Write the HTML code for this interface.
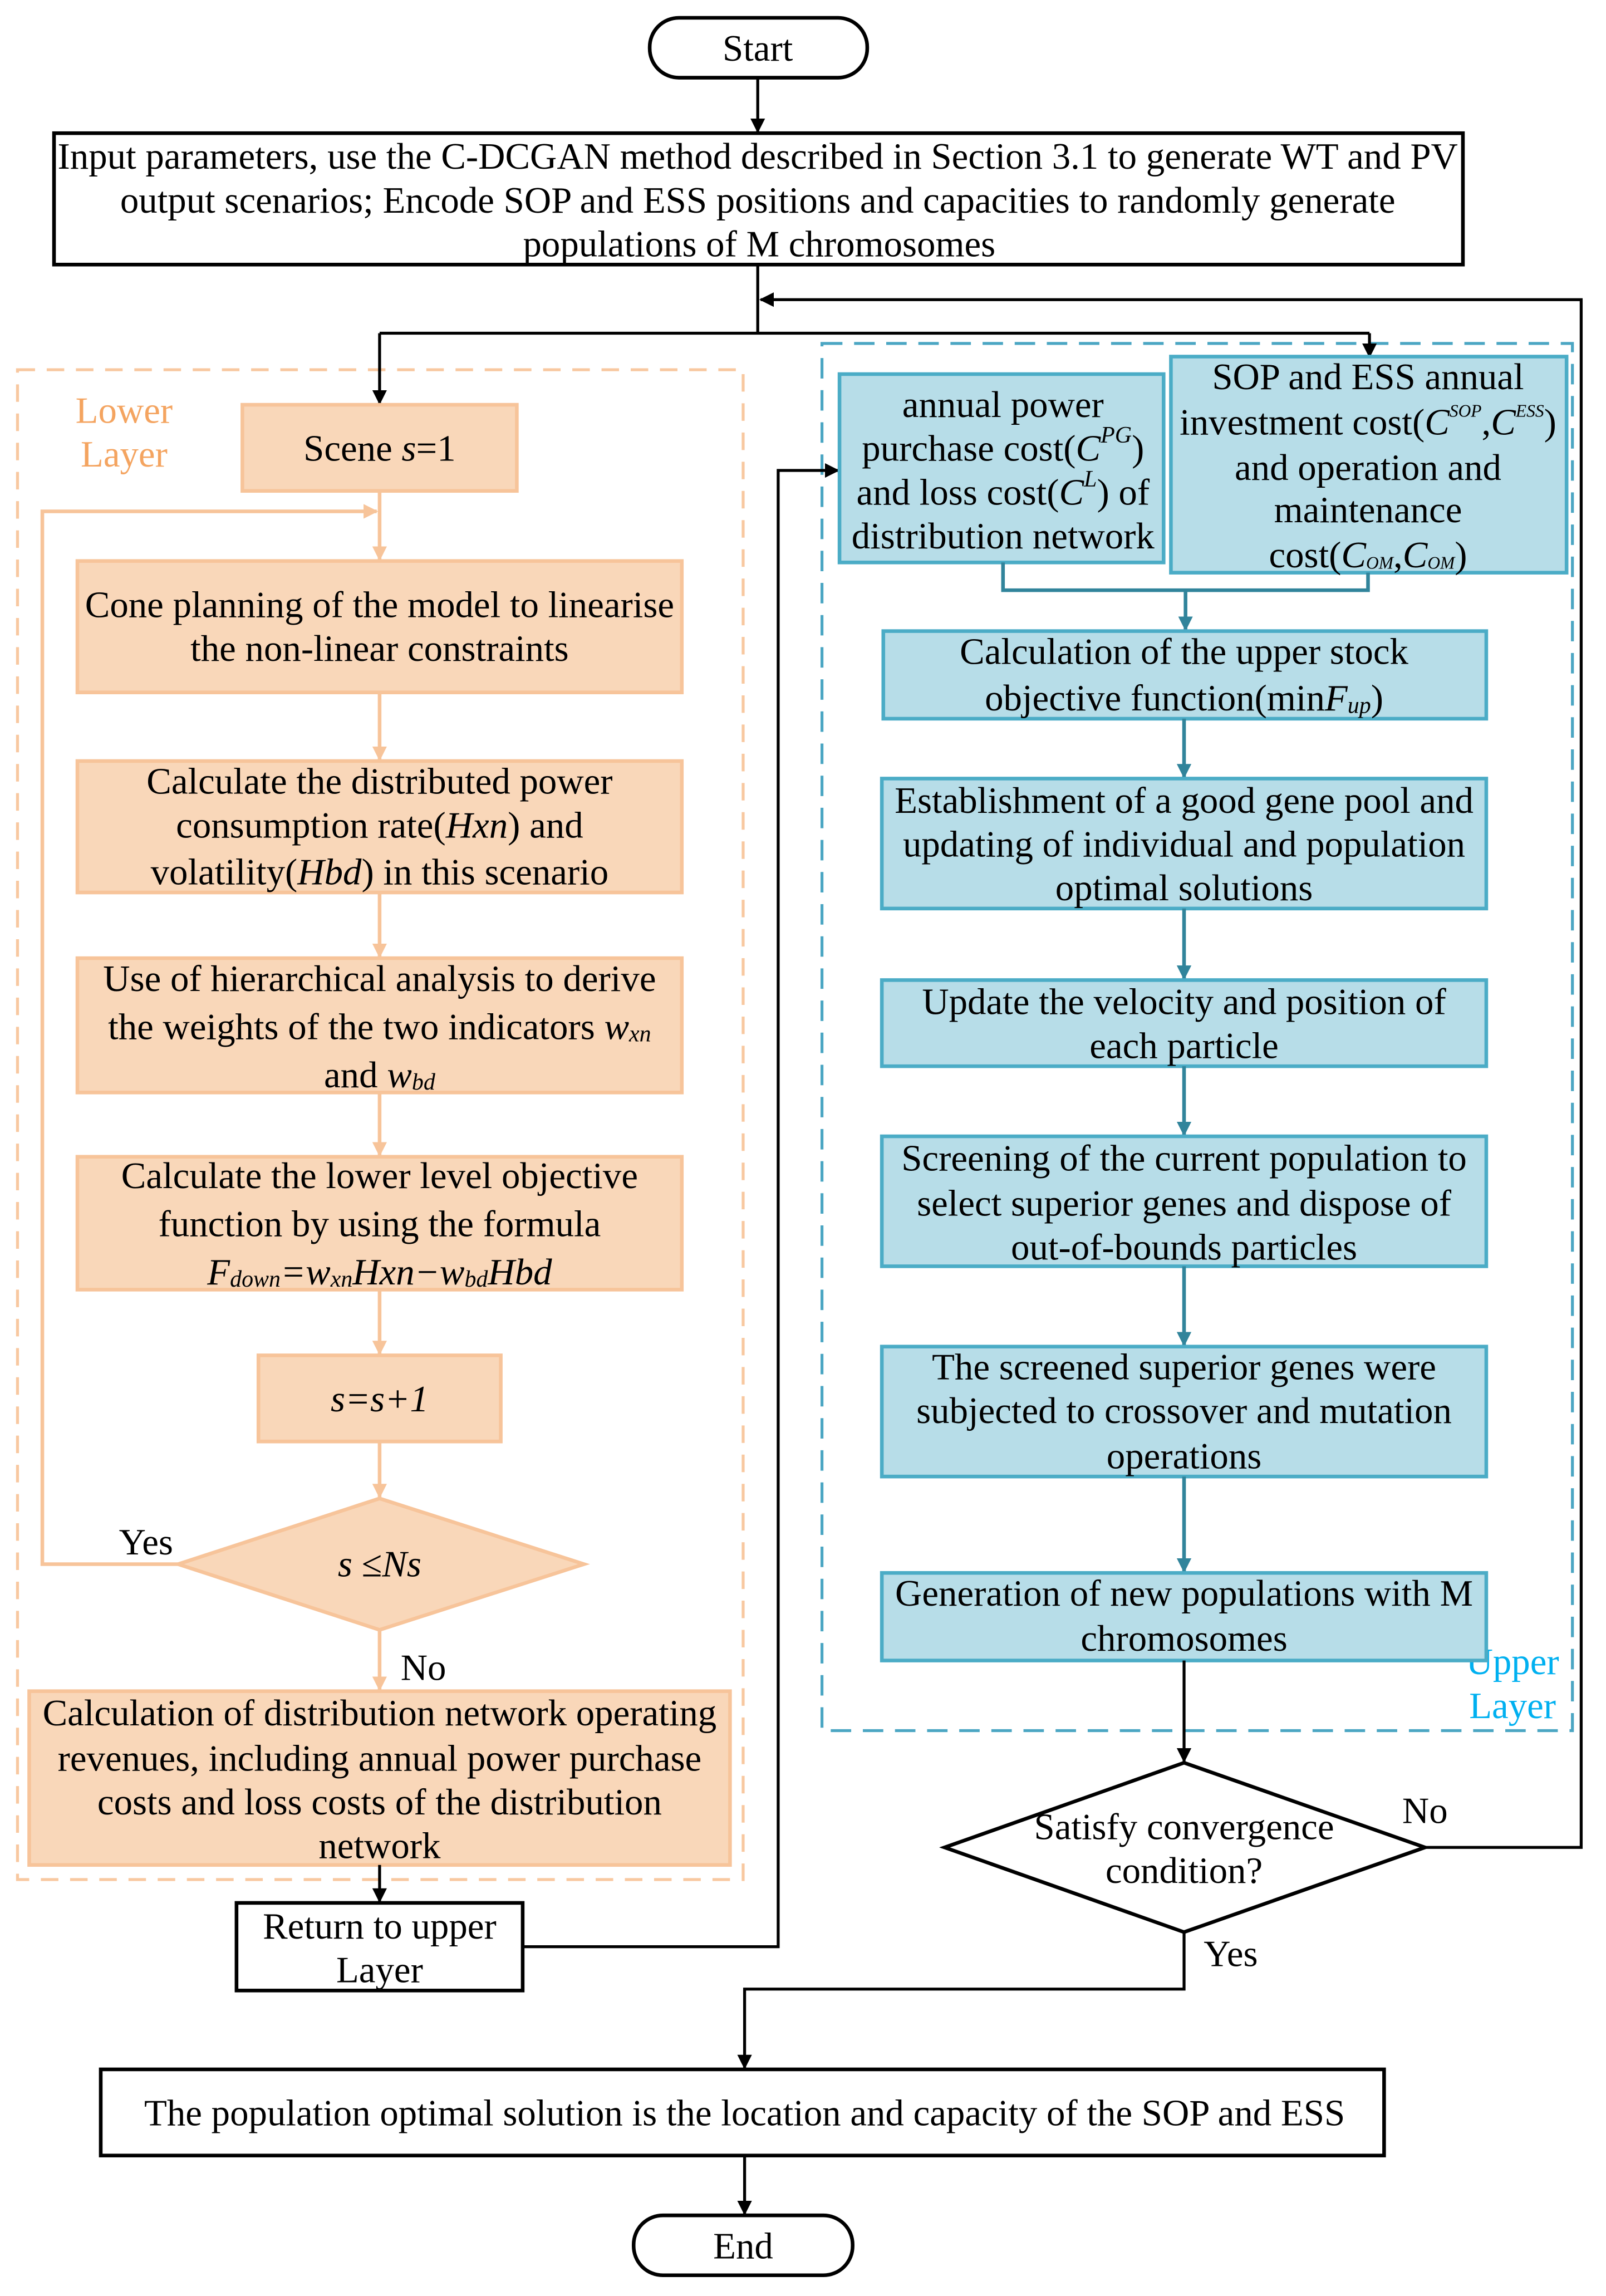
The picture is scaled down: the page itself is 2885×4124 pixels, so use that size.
<!DOCTYPE html>
<html><head><meta charset="utf-8"><style>
html,body{margin:0;padding:0;background:#fff;}
svg{display:block;}
text{font-family:"Liberation Serif",serif;font-size:25.5px;fill:#000;text-anchor:middle;dominant-baseline:central;}
.o{fill:#F9D7B9;stroke:#F7C49A;stroke-width:2.5;}
.b{fill:#B7DDE8;stroke:#4BACC6;stroke-width:2.5;}
.k{fill:#fff;stroke:#000;stroke-width:2.5;}
.ol{stroke:#F7C49A;stroke-width:2.5;fill:none;}
.bl{stroke:#31849B;stroke-width:2.5;fill:none;}
.kl{stroke:#000;stroke-width:2;fill:none;}
.i{font-style:italic;}
</style></head><body>
<svg width="2885" height="4124" viewBox="0 0 1100 1572" xmlns="http://www.w3.org/2000/svg">
<defs>
<marker id="ak" markerWidth="10" markerHeight="10" refX="9" refY="5" orient="auto" markerUnits="userSpaceOnUse"><path d="M0,0 L10,5 L0,10 Z" fill="#000"/></marker>
<marker id="ao" markerWidth="10" markerHeight="10" refX="9" refY="5" orient="auto" markerUnits="userSpaceOnUse"><path d="M0,0 L10,5 L0,10 Z" fill="#F7C49A"/></marker>
<marker id="ab" markerWidth="10" markerHeight="10" refX="9" refY="5" orient="auto" markerUnits="userSpaceOnUse"><path d="M0,0 L10,5 L0,10 Z" fill="#31849B"/></marker>
</defs>

<rect x="12" y="253" width="497" height="1034" fill="none" stroke="#F8C8A0" stroke-width="2" stroke-dasharray="12,8"/>
<text x="85" y="281" style="fill:#F4A460">Lower</text>
<text x="85" y="311" style="fill:#F4A460">Layer</text>
<rect x="563" y="235" width="514" height="950" fill="none" stroke="#4BA6C3" stroke-width="2" stroke-dasharray="14,8"/>
<text x="1036" y="1138" style="fill:#00B0F0">Upper</text>
<text x="1036" y="1168" style="fill:#00B0F0">Layer</text>

<rect x="445" y="12" width="149" height="41" rx="20" class="k"/>
<text x="519" y="33">Start</text>
<line x1="519" y1="53" x2="519" y2="90" class="kl" marker-end="url(#ak)"/>

<rect x="37" y="91" width="965" height="90" class="k"/>
<text x="519" y="107">Input parameters, use the C-DCGAN method described in Section 3.1 to generate WT and PV</text>
<text x="519" y="137">output scenarios; Encode SOP and ESS positions and capacities to randomly generate</text>
<text x="520" y="167">populations of M chromosomes</text>

<path d="M519,181 V228" class="kl"/>
<path d="M260,228 H938" class="kl"/>
<path d="M260,228 V276" class="kl" marker-end="url(#ak)"/>
<path d="M938,228 V244" class="kl" marker-end="url(#ak)"/>
<path d="M976,1265 H1083 V205 H521" class="kl" marker-end="url(#ak)"/>

<rect x="166" y="277" width="188" height="59" class="o"/>
<text x="260" y="307">Scene  <tspan class="i">s</tspan>=1</text>
<path d="M260,336 V383" class="ol" marker-end="url(#ao)"/>
<path d="M122,1071 H29 V350 H258" class="ol" marker-end="url(#ao)"/>

<rect x="53" y="384" width="414" height="90" class="o"/>
<text x="260" y="414">Cone planning of the model to linearise</text>
<text x="260" y="444">the non-linear constraints</text>
<path d="M260,474 V520" class="ol" marker-end="url(#ao)"/>

<rect x="53" y="521" width="414" height="90" class="o"/>
<text x="260" y="535">Calculate the distributed power</text>
<text x="260" y="565">consumption rate(<tspan class="i">Hxn</tspan>) and</text>
<text x="260" y="597">volatility(<tspan class="i">Hbd</tspan>) in this scenario</text>
<path d="M260,611 V655" class="ol" marker-end="url(#ao)"/>

<rect x="53" y="656" width="414" height="92" class="o"/>
<text x="260" y="670">Use of hierarchical analysis to derive</text>
<text x="260" y="703">the weights of the two indicators <tspan class="i">w</tspan><tspan class="i" font-size="16" dy="5">xn</tspan></text>
<text x="260" y="736">and  <tspan class="i">w</tspan><tspan class="i" font-size="16" dy="5">bd</tspan></text>
<path d="M260,748 V791" class="ol" marker-end="url(#ao)"/>

<rect x="53" y="792" width="414" height="91" class="o"/>
<text x="260" y="805">Calculate the lower level objective</text>
<text x="260" y="838">function by using the formula</text>
<text x="260" y="871" class="i">F<tspan font-size="16" dy="5">down</tspan><tspan dy="-5">=w</tspan><tspan font-size="16" dy="5">xn</tspan><tspan dy="-5">Hxn−w</tspan><tspan font-size="16" dy="5">bd</tspan><tspan dy="-5">Hbd</tspan></text>
<path d="M260,883 V927" class="ol" marker-end="url(#ao)"/>

<rect x="177" y="928" width="166" height="59" class="o"/>
<text x="260" y="958" class="i">s=s+1</text>
<path d="M260,987 V1025" class="ol" marker-end="url(#ao)"/>

<polygon points="260,1026 400,1071 260,1116 122,1071" class="o"/>
<text x="260" y="1071"><tspan class="i">s</tspan> ≤<tspan class="i">Ns</tspan></text>
<text x="100" y="1056">Yes</text>
<path d="M260,1116 V1157" class="ol" marker-end="url(#ao)"/>
<text x="290" y="1142">No</text>

<rect x="20" y="1158" width="480" height="119" class="o"/>
<text x="260" y="1173">Calculation of distribution network operating</text>
<text x="260" y="1204">revenues, including annual power purchase</text>
<text x="260" y="1234">costs and loss costs of the distribution</text>
<text x="260" y="1264">network</text>
<path d="M260,1277 V1302" class="kl" marker-end="url(#ak)"/>

<rect x="162" y="1303" width="196" height="60" class="k"/>
<text x="260" y="1319">Return to upper</text>
<text x="260" y="1349">Layer</text>
<path d="M358,1333 H533 V322 H574" class="kl" marker-end="url(#ak)"/>

<rect x="575" y="256" width="222" height="129" class="b"/>
<text x="687" y="277">annual power</text>
<text x="687" y="307">purchase cost(<tspan class="i">C</tspan><tspan class="i" font-size="16" dy="-9">PG</tspan><tspan dy="9">)</tspan></text>
<text x="687" y="337">and loss cost(<tspan class="i">C</tspan><tspan class="i" font-size="16" dy="-9">L</tspan><tspan dy="9">) of</tspan></text>
<text x="687" y="367">distribution network</text>

<rect x="802" y="244" width="271" height="148" class="b"/>
<text x="937" y="258">SOP and ESS annual</text>
<text x="937" y="289">investment cost(<tspan class="i">C</tspan><tspan class="i" font-size="12" dy="-8">SOP</tspan><tspan dy="8">,</tspan><tspan class="i">C</tspan><tspan class="i" font-size="12" dy="-8">ESS</tspan><tspan dy="8">)</tspan></text>
<text x="937" y="320">and operation and</text>
<text x="937" y="349">maintenance</text>
<text x="937" y="380">cost(<tspan class="i">C</tspan><tspan class="i" font-size="12" dy="5">OM</tspan><tspan dy="-5">,</tspan><tspan class="i">C</tspan><tspan class="i" font-size="12" dy="5">OM</tspan><tspan dy="-5">)</tspan></text>

<path d="M687,385 V404 H937 V392" class="bl"/>
<path d="M812,404 V431" class="bl" marker-end="url(#ab)"/>

<rect x="605" y="432" width="413" height="60" class="b"/>
<text x="811" y="446">Calculation of the upper stock</text>
<text x="811" y="478">objective function(min<tspan class="i">F</tspan><tspan class="i" font-size="16" dy="5">up</tspan><tspan dy="-5">)</tspan></text>
<path d="M811,492 V532" class="bl" marker-end="url(#ab)"/>

<rect x="604" y="533" width="414" height="89" class="b"/>
<text x="811" y="548">Establishment of a good gene pool and</text>
<text x="811" y="578">updating of individual and population</text>
<text x="811" y="608">optimal solutions</text>
<path d="M811,622 V670" class="bl" marker-end="url(#ab)"/>

<rect x="604" y="671" width="414" height="59" class="b"/>
<text x="811" y="686">Update the velocity and position of</text>
<text x="811" y="716">each particle</text>
<path d="M811,730 V777" class="bl" marker-end="url(#ab)"/>

<rect x="604" y="778" width="414" height="89" class="b"/>
<text x="811" y="793">Screening of the current population to</text>
<text x="811" y="824">select superior genes and dispose of</text>
<text x="811" y="854">out-of-bounds particles</text>
<path d="M811,867 V921" class="bl" marker-end="url(#ab)"/>

<rect x="604" y="922" width="414" height="89" class="b"/>
<text x="811" y="936">The screened superior genes were</text>
<text x="811" y="966">subjected to crossover and mutation</text>
<text x="811" y="997">operations</text>
<path d="M811,1011 V1076" class="bl" marker-end="url(#ab)"/>

<rect x="604" y="1077" width="414" height="60" class="b"/>
<text x="811" y="1091">Generation of new populations with M</text>
<text x="811" y="1122">chromosomes</text>
<path d="M811,1137 V1206" class="kl" marker-end="url(#ak)"/>

<polygon points="811,1207 976,1265 811,1323 647,1265" class="k"/>
<text x="811" y="1251">Satisfy convergence</text>
<text x="811" y="1281">condition?</text>
<text x="976" y="1240">No</text>
<text x="843" y="1338">Yes</text>
<path d="M811,1323 V1362 H510 V1416" class="kl" marker-end="url(#ak)"/>

<rect x="69" y="1417" width="879" height="59" class="k"/>
<text x="510" y="1447">The population optimal solution is the location and capacity of the SOP and ESS</text>
<path d="M510,1476 V1516" class="kl" marker-end="url(#ak)"/>
<rect x="434" y="1517" width="150" height="41" rx="20" class="k"/>
<text x="509" y="1538">End</text>
</svg>
</body></html>
